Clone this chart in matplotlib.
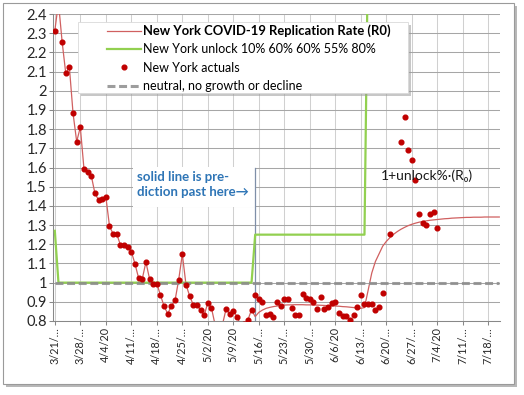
import matplotlib
matplotlib.use('Agg')
import matplotlib.pyplot as plt
import numpy as np
from matplotlib.patches import Rectangle

plt.rcParams['font.family'] = ['Lato', 'DejaVu Sans']

# ---------------- data ----------------
# day 0 = 3/21/20
tick_days = list(range(0, 120, 7))
tick_labels = ["3/21/…", "3/28/…", "4/4/20", "4/11/…", "4/18/…", "4/25/…",
               "5/2/20", "5/9/20", "5/16/…", "5/23/…", "5/30/…", "6/6/20",
               "6/13/…", "6/20/…", "6/27/…", "7/4/20", "7/11/…", "7/18/…"]

# New York actuals (daily from 3/21, None = no value)
actual_vals = [
    2.313, 2.46, 2.256, 2.091, 2.122, 1.883, 1.735, 1.81, 1.593, 1.577,
    1.558, 1.466, 1.431, 1.438, 1.448, 1.296, 1.253, 1.253, 1.197, 1.197,
    1.188, 1.162, 1.098, 1.024, 1.019, 1.107, 1.02, 0.994, 0.994, 0.935,
    0.876, 0.838, 0.879, 0.907, 1.015, 1.148, 0.99, 0.931, 0.884, 0.883,
    0.858, 0.829, 0.896, 0.867, 0.78, 0.74, 0.78, 0.862, 0.838, 0.853,
    0.823, 0.78, 0.785, 0.806, 0.858, 0.937, 0.914, 0.90, 0.829, 0.836,
    0.82, 0.90, 0.879, 0.914, 0.917, 0.869, 0.829, 0.829, 0.94, 0.919,
    0.914, 0.898, 0.862, 0.924, 0.865, 0.872, 0.893, 0.90, 0.841, 0.827,
    0.827, 0.806, 0.832, 0.875, 0.938, 0.89, 0.886, 0.886, 0.858, 0.875,
    0.948, None, 1.253, None, None, 1.735, 1.865, 1.692, 1.64, 1.535,
    1.358, 1.31, 1.301, 1.357, 1.367, 1.284,
]

# Predicted replication rate, daily starting 5/15 (day 55)
pred_start = 55
r0_predicted = [
    0.823, 0.845, 0.857, 0.866, 0.871, 0.875, 0.878, 0.881, 0.883, 0.884,
    0.884, 0.885, 0.885, 0.885, 0.884, 0.884, 0.883, 0.883, 0.882, 0.881,
    0.880, 0.879, 0.878, 0.877, 0.875, 0.874, 0.872, 0.870, 0.868, 0.866,
    0.870, 0.960, 1.050, 1.110, 1.150, 1.190, 1.215, 1.235, 1.252, 1.266,
    1.278, 1.288, 1.297, 1.304, 1.310, 1.315, 1.319, 1.322, 1.325, 1.327,
    1.329, 1.331, 1.333, 1.334, 1.336, 1.337, 1.338, 1.339, 1.340, 1.340,
    1.341, 1.341, 1.341, 1.342, 1.342, 1.342, 1.342, 1.342,
]

# unlock series (step points)
unlock_days = [0, 1, 54, 55, 85, 86, 122]
unlock_vals = [1.27, 1.0, 1.0, 1.25, 1.25, 2.8, 2.8]

neutral_value = 1.0

labels = ["New York COVID-19 Replication Rate (R0)",
          "New York unlock 10% 60% 60% 55% 80%",
          "New York actuals",
          "neutral, no growth or decline"]

# ---------------- figure ----------------
W, H = 524, 395
fig = plt.figure(figsize=(W / 100, H / 100), dpi=100)

# chart-area frame with shadow
sh = Rectangle((0.06, 0.08), 5.11, 3.81, transform=fig.dpi_scale_trans,
               facecolor='#B8B8B8', edgecolor='none', zorder=-3)
fr = Rectangle((0.03, 0.11), 5.11, 3.81, transform=fig.dpi_scale_trans,
               facecolor='white', edgecolor='#9A9A9A', lw=0.8, zorder=-2)
fig.patches.extend([sh, fr])

ax = fig.add_axes([53 / W, (H - 321) / H, 447 / W, 307 / H])
ax.set_facecolor('none')

act = np.array([np.nan if v is None else v for v in actual_vals], dtype=float)
act_days = np.arange(len(act))
pred = np.array(r0_predicted)
pred_days = np.arange(pred_start, pred_start + len(pred))

line_days = np.concatenate([act_days[:pred_start], pred_days])
line_vals = np.concatenate([act[:pred_start], pred])

ax.plot(line_days, line_vals, color='#D06060', lw=0.9, zorder=3, label=labels[0])
ax.plot(unlock_days, unlock_vals, color='#92D050', lw=1.6, zorder=3, label=labels[1])
ax.plot(act_days, act, ls='none', marker='o', ms=3.4, color='#C00000',
        zorder=6, label=labels[2])
nd = np.arange(0, 123)
ax.plot(nd, np.full(len(nd), neutral_value), color='#8C8C8C', lw=2.2, alpha=0.85,
        dashes=(2.6, 1.2), zorder=4, label=labels[3])

ax.set_xlim(-0.5, 122.2)
ax.set_ylim(0.8, 2.4)

yt = np.round(np.arange(8, 25) / 10, 1)
ax.set_yticks(yt)
ax.set_yticklabels([f'{v:g}' for v in yt])
ax.set_xticks(tick_days)
ax.set_xticklabels(tick_labels, rotation=90)

ax.set_axisbelow(True)
ax.yaxis.grid(True, color='#A6A6A6', lw=0.75)
ax.xaxis.grid(True, color='#D0D0D0', lw=0.75)
for s in ['top', 'right']:
    ax.spines[s].set_visible(False)
for s in ['left', 'bottom']:
    ax.spines[s].set_color('#888888')
    ax.spines[s].set_linewidth(0.75)
ax.tick_params(axis='both', length=3, width=0.75, color='#888888',
               pad=1.5, labelcolor='#262626')
ax.tick_params(axis='y', labelsize=10.5)
ax.tick_params(axis='x', labelsize=7.8)

# white box behind the note
ax.add_patch(Rectangle((0.179, 0.371), 0.273, 0.131, transform=ax.transAxes,
                       facecolor='white', edgecolor='none', zorder=1))
ax.plot([pred_start, pred_start], [0.8, 1.6], color='#7F8FA8', lw=0.9, zorder=2)
ax.text(0.187, 0.445, "solid line is pre-\ndiction past here→", transform=ax.transAxes,
        ha='left', va='center', color='#2E75B6', fontsize=9.5, fontweight='bold',
        linespacing=1.35, zorder=7)
ax.text(0.734, 0.472, "1+unlock%·(R₀)", transform=ax.transAxes, ha='left', va='center',
        color='#1A1A1A', fontsize=10, zorder=7)

# legend frame (drawn separately) with soft shadow
off = 3 / 447, 3 / 307
ax.add_patch(Rectangle((0.0559 + off[0], 0.7427 - off[1]), 0.738, 0.2313,
                       transform=ax.transAxes, facecolor='#9A9A9A', alpha=0.55,
                       edgecolor='none', zorder=9, clip_on=False))
ax.add_patch(Rectangle((0.0559, 0.7427), 0.738, 0.2313, transform=ax.transAxes,
                       facecolor='white', edgecolor='#D9D9D9', lw=0.6,
                       zorder=9.5, clip_on=False))

leg = ax.legend(loc='upper left', bbox_to_anchor=(0.1208, 0.966), fontsize=9.0,
                handlelength=2.7, handletextpad=0.18, labelspacing=0.5,
                borderpad=0, borderaxespad=0, frameon=False)
leg.set_zorder(10)
texts = leg.get_texts()
texts[0].set_fontweight('bold')
texts[0].set_fontsize(9.4)

fig.savefig('out.png', dpi=100)
